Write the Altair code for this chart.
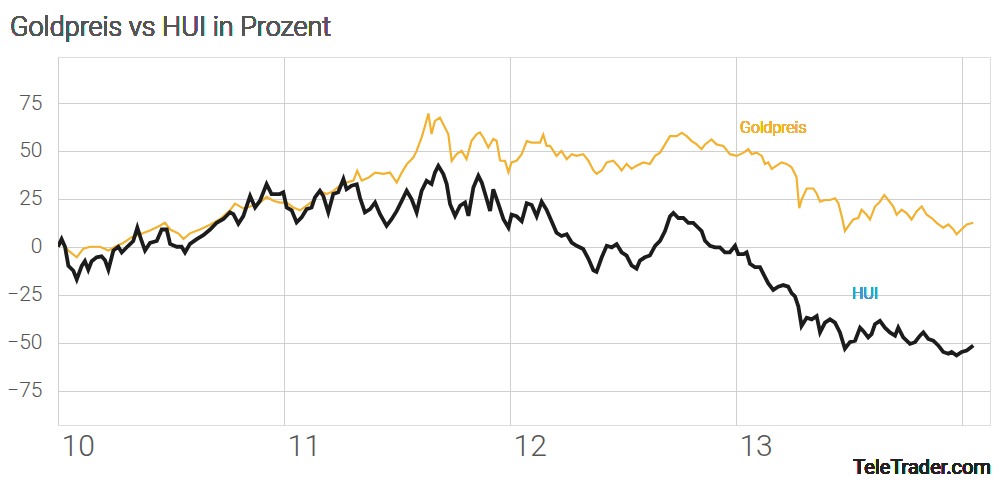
import altair as alt
import pandas as pd

# ---- data (years since 2010, percent change) ----
gold_t = [0.000, 0.016, 0.046, 0.083, 0.112, 0.142, 0.186, 0.223, 0.260, 0.289, 0.326, 0.363, 0.407, 0.451, 0.473,
          0.496, 0.532, 0.555, 0.584, 0.628, 0.673, 0.717, 0.761, 0.783, 0.820, 0.850, 0.894, 0.923, 0.953, 0.982,
          1.012, 1.041, 1.071, 1.100, 1.130, 1.159, 1.189, 1.218, 1.248, 1.277, 1.307, 1.324, 1.344, 1.373, 1.403,
          1.440, 1.469, 1.499, 1.521, 1.543, 1.572, 1.587, 1.609, 1.624, 1.639, 1.653, 1.668, 1.690, 1.712, 1.727,
          1.742, 1.764, 1.786, 1.808, 1.830, 1.853, 1.867, 1.882, 1.904, 1.926, 1.941, 1.956, 1.978, 1.993, 2.007,
          2.029, 2.052, 2.074, 2.096, 2.118, 2.133, 2.147, 2.162, 2.177, 2.192, 2.206, 2.228, 2.251, 2.273, 2.295,
          2.324, 2.347, 2.369, 2.383, 2.406, 2.428, 2.457, 2.478, 2.494, 2.516, 2.538, 2.560, 2.590, 2.619, 2.642,
          2.664, 2.686, 2.708, 2.737, 2.760, 2.782, 2.804, 2.826, 2.848, 2.863, 2.892, 2.914, 2.944, 2.973, 3.003,
          3.034, 3.055, 3.069, 3.091, 3.114, 3.128, 3.143, 3.158, 3.180, 3.202, 3.224, 3.246, 3.268, 3.276, 3.280,
          3.290, 3.313, 3.342, 3.357, 3.372, 3.394, 3.416, 3.438, 3.453, 3.468, 3.482, 3.497, 3.519, 3.541, 3.556,
          3.578, 3.593, 3.615, 3.637, 3.656, 3.674, 3.696, 3.711, 3.733, 3.755, 3.777, 3.799, 3.822, 3.844, 3.866,
          3.888, 3.917, 3.940, 3.962, 3.976, 3.991, 4.006, 4.021, 4.050]
gold_v = [0.0, 2.0, -2.0, -5.5, -1.0, 0.0, 0.0, -2.0, 0.5, 2.0, 5.0, 6.5, 8.5, 11.0, 12.5,
          9.0, 7.0, 4.0, 7.0, 9.0, 11.5, 14.5, 19.0, 22.5, 20.0, 21.0, 23.0, 26.0, 24.0, 23.0,
          23.0, 20.5, 19.0, 21.5, 24.0, 29.0, 27.5, 29.0, 32.0, 33.5, 34.5, 39.6, 34.5, 36.0, 38.7,
          38.0, 38.7, 33.5, 38.7, 43.0, 46.5, 50.0, 57.0, 63.0, 69.5, 58.8, 65.7, 67.4, 62.2, 58.8,
          44.8, 48.3, 50.0, 45.7, 55.3, 58.8, 59.6, 57.0, 51.8, 56.2, 55.3, 45.0, 44.8, 38.9, 44.0,
          44.9, 48.3, 55.1, 54.3, 54.3, 54.3, 58.5, 52.6, 52.6, 50.0, 47.4, 50.0, 45.7, 48.3, 47.4,
          48.3, 44.9, 39.8, 38.1, 39.8, 44.0, 44.9, 42.3, 39.8, 43.2, 40.6, 42.3, 44.0, 43.2, 47.4,
          49.1, 53.4, 57.7, 57.7, 59.4, 57.7, 55.1, 53.4, 50.9, 53.4, 56.0, 53.4, 52.6, 48.3, 47.4,
          49.1, 50.9, 48.3, 49.1, 47.4, 43.2, 44.0, 40.6, 42.3, 44.0, 43.2, 41.5, 36.3, 25.3, 20.1,
          24.4, 30.4, 30.4, 27.8, 23.5, 24.4, 24.4, 25.3, 22.7, 15.9, 8.2, 10.8, 14.2, 15.0, 19.3,
          16.7, 14.2, 21.0, 23.5, 27.0, 24.4, 21.0, 16.7, 19.3, 17.6, 14.2, 18.4, 21.0, 16.7, 15.0,
          12.5, 9.9, 11.6, 9.0, 6.5, 8.2, 9.9, 11.6, 12.5]

hui_t = [0.000, 0.016, 0.031, 0.046, 0.068, 0.083, 0.105, 0.119, 0.134, 0.149, 0.171, 0.193, 0.208, 0.223, 0.245,
         0.267, 0.282, 0.311, 0.333, 0.351, 0.370, 0.385, 0.407, 0.437, 0.459, 0.481, 0.496, 0.525, 0.547, 0.562,
         0.584, 0.614, 0.643, 0.673, 0.702, 0.732, 0.761, 0.776, 0.798, 0.820, 0.850, 0.872, 0.894, 0.923, 0.945,
         0.982, 0.997, 1.012, 1.034, 1.056, 1.078, 1.100, 1.122, 1.137, 1.159, 1.174, 1.196, 1.218, 1.240, 1.263,
         1.277, 1.299, 1.322, 1.336, 1.358, 1.381, 1.403, 1.425, 1.454, 1.476, 1.499, 1.521, 1.543, 1.565, 1.587,
         1.609, 1.631, 1.653, 1.668, 1.683, 1.705, 1.720, 1.735, 1.757, 1.779, 1.801, 1.816, 1.838, 1.860, 1.875,
         1.897, 1.912, 1.926, 1.949, 1.971, 1.993, 2.007, 2.029, 2.052, 2.074, 2.096, 2.118, 2.140, 2.162, 2.184,
         2.206, 2.228, 2.251, 2.273, 2.295, 2.324, 2.347, 2.369, 2.383, 2.406, 2.428, 2.450, 2.472, 2.494, 2.516,
         2.538, 2.560, 2.575, 2.597, 2.619, 2.642, 2.664, 2.686, 2.708, 2.723, 2.745, 2.767, 2.789, 2.811, 2.833,
         2.848, 2.863, 2.885, 2.907, 2.929, 2.951, 2.973, 2.996, 3.010, 3.034, 3.047, 3.062, 3.084, 3.106, 3.128,
         3.143, 3.165, 3.187, 3.209, 3.231, 3.246, 3.261, 3.276, 3.290, 3.313, 3.335, 3.357, 3.372, 3.394, 3.416,
         3.438, 3.460, 3.482, 3.504, 3.527, 3.549, 3.563, 3.585, 3.600, 3.615, 3.637, 3.659, 3.681, 3.704, 3.718,
         3.740, 3.770, 3.792, 3.814, 3.829, 3.851, 3.873, 3.895, 3.917, 3.940, 3.954, 3.976, 3.999, 4.021, 4.050]
hui_v = [0.0, 4.0, 0.0, -10.0, -12.5, -17.0, -10.0, -7.5, -12.0, -7.5, -5.5, -5.0, -7.0, -12.0, -2.0,
         0.0, -3.0, 0.5, 3.0, 10.0, 3.0, -2.0, 2.0, 3.0, 9.0, 9.0, 1.5, 0.0, 0.0, -3.0,
         1.5, 4.0, 6.0, 9.0, 12.5, 14.5, 18.0, 17.0, 12.0, 16.0, 26.5, 20.5, 24.0, 32.7, 27.5,
         27.5, 28.4, 20.5, 19.0, 12.7, 15.3, 19.6, 20.5, 25.7, 29.2, 26.5, 17.9, 27.5, 28.4, 35.3,
         30.0, 31.8, 32.6, 25.7, 17.9, 19.6, 23.1, 17.0, 10.9, 14.4, 18.7, 23.9, 29.2, 24.8, 17.9,
         29.2, 34.4, 32.7, 38.7, 42.2, 37.9, 32.7, 22.2, 16.1, 21.4, 23.1, 16.1, 30.9, 37.0, 33.5,
         24.8, 18.7, 30.0, 22.2, 14.4, 10.0, 16.7, 15.9, 13.3, 22.7, 21.8, 15.9, 23.5, 19.3, 13.3,
         7.3, 5.6, 6.5, 2.2, 0.5, -1.2, -6.3, -12.3, -13.1, -5.5, 0.5, -0.3, 1.4, -2.9, -4.6,
         -9.7, -11.4, -7.2, -5.5, -4.6, 0.5, 3.1, 8.2, 15.9, 17.6, 15.0, 15.0, 12.5, 12.5, 9.9,
         8.2, 3.1, 0.5, -0.3, -0.3, -2.9, -2.9, 0.5, -3.8, -3.8, -2.9, -8.9, -10.6, -10.6, -15.7,
         -19.1, -22.5, -20.8, -20.0, -20.8, -24.2, -25.9, -31.1, -41.3, -37.0, -37.9, -36.2, -44.7, -39.6, -37.9,
         -39.6, -44.7, -53.2, -49.8, -49.0, -42.2, -43.9, -47.3, -45.6, -40.4, -38.7, -42.2, -44.7, -46.4, -42.2,
         -47.3, -50.7, -49.8, -46.4, -44.7, -48.1, -49.0, -51.5, -54.9, -55.8, -54.9, -56.7, -54.9, -54.1, -51.5]

year_ticks = [2010, 2011, 2012, 2013, 2014]
value_ticks = [-75, -50, -25, 0, 25, 50, 75]
series_names = ["Goldpreis", "HUI"]
title_text = "Goldpreis vs HUI in Prozent"
source_text = "TeleTrader.com"

# ---- styling ----
GOLD = "#F2B22F"
BLACK = "#1c1c1c"
BLUE = "#3C9AD0"
GREY_TXT = "#555555"
GRID = "#cfcfcf"
FONT = "Roboto"

gold_df = pd.DataFrame({"t": [2010 + v for v in gold_t], "v": gold_v, "s": series_names[0]})
hui_df = pd.DataFrame({"t": [2010 + v for v in hui_t], "v": hui_v, "s": series_names[1]})
gold_df["o"] = range(len(gold_df))
hui_df["o"] = range(len(hui_df))

x_enc = alt.X(
    "t:Q",
    scale=alt.Scale(domain=[2010, 2014.124], nice=False, zero=False),
    axis=alt.Axis(
        values=year_ticks, title=None, grid=True, ticks=False, domain=False,
        labelExpr="datum.value >= 2014 ? '' : '' + (datum.value - 2000)",
        labelAlign="left", labelOffset=3, labelPadding=6, labelBaseline="top",
        labelFontSize=30, labelColor=GREY_TXT, labelFont=FONT, labelFontWeight=300,
        gridColor=GRID, gridWidth=1,
    ),
)
y_enc = alt.Y(
    "v:Q",
    scale=alt.Scale(domain=[-93, 99], nice=False, zero=False),
    axis=alt.Axis(
        values=value_ticks, title=None, grid=True, ticks=False, domain=False,
        labelPadding=16, labelFontSize=21, labelColor=GREY_TXT, labelFont=FONT, labelFontWeight=300,
        gridColor=GRID, gridWidth=1,
    ),
)

gold_line = alt.Chart(gold_df).mark_line(color=GOLD, strokeWidth=2.2, clip=True).encode(
    x=x_enc, y=y_enc, order="o:Q")
hui_line = alt.Chart(hui_df).mark_line(color=BLACK, strokeWidth=3.8, clip=True).encode(
    x=alt.X("t:Q"), y=alt.Y("v:Q"), order="o:Q")

gold_label = alt.Chart(gold_df).mark_text(
    text=series_names[0], color=GOLD, font=FONT, fontWeight=300, fontSize=16, align="left", baseline="middle"
).encode(x=alt.datum(2013.018), y=alt.datum(62.0))
hui_label = alt.Chart(hui_df).mark_text(
    text=series_names[1], color=BLUE, font=FONT, fontWeight=300, fontSize=16, align="left", baseline="middle"
).encode(x=alt.datum(2013.513), y=alt.datum(-24.5))

title_mark = alt.Chart(gold_df).mark_text(
    text=title_text, color=GREY_TXT, font=FONT, fontWeight=300, fontSize=27,
    align="left", baseline="alphabetic"
).encode(x=alt.value(-48), y=alt.value(-21))

watermark = alt.Chart(gold_df).mark_text(
    text=source_text, color="#222222", font=FONT, fontWeight=400, fontSize=20,
    align="right", baseline="alphabetic"
).encode(x=alt.value(933), y=alt.value(417))

chart = alt.layer(gold_line, hui_line, gold_label, hui_label, title_mark, watermark).properties(
    width=932, height=368,
    autosize=alt.AutoSizeParams(type="none"),
    padding={"left": 50, "top": 49, "right": 2, "bottom": 55},
).configure_view(stroke=None).configure(background="white")

chart.save("out.html", embed_options={"renderer": "svg", "actions": False})
